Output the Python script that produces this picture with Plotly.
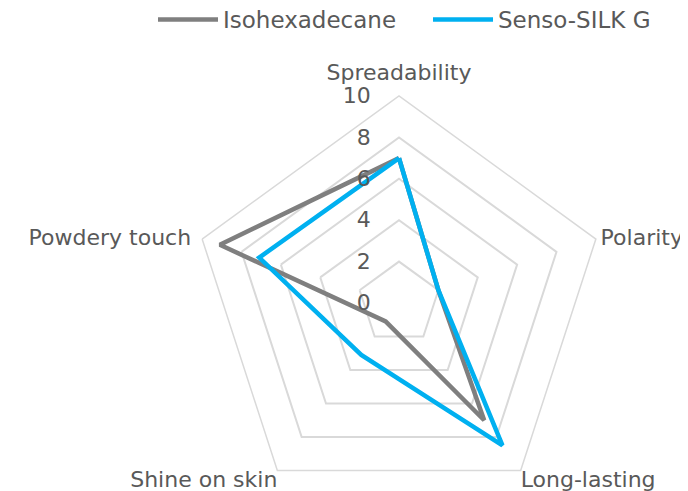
import plotly.graph_objects as go

categories = ["Spreadability", "Polarity", "Long-lasting", "Shine on skin", "Powdery touch"]
isohexadecane = [7.0, 2.0, 7.0, 1.1, 9.1]
senso_silk_g = [7.0, 2.0, 8.5, 3.1, 7.1]
tick_vals = [0, 2, 4, 6, 8, 10]
tick_labels = ["0", "2", "4", "6", "8", "10"]
axis_max = 10

GRID = "#d9d9d9"
TEXT = "#595959"
FONT = "DejaVu Sans"
FS = 22

# where each category label sits around its vertex, and how far it is pushed out
label_positions = ["top center", "middle right", "bottom right", "bottom left", "middle left"]
label_offsets = [16, 6, 0, 0, 16]

theta_closed = categories + categories[:1]

fig = go.Figure()
fig.add_trace(go.Scatterpolar(
    r=isohexadecane + isohexadecane[:1], theta=theta_closed, mode="lines",
    name="Isohexadecane", line=dict(color="#7f7f7f", width=4.5)))
fig.add_trace(go.Scatterpolar(
    r=senso_silk_g + senso_silk_g[:1], theta=theta_closed, mode="lines",
    name="Senso-SILK G", line=dict(color="#00b0f0", width=4.5)))

# category labels at the outer vertices
fig.add_trace(go.Scatterpolar(
    r=[axis_max] * len(categories), theta=categories, mode="markers+text",
    text=categories, textposition=label_positions,
    marker=dict(size=label_offsets, color="rgba(0,0,0,0)"),
    textfont=dict(family=FONT, size=FS, color=TEXT),
    cliponaxis=False, showlegend=False, hoverinfo="skip"))

W, H = 688, 510
cx, cy, R = 391, 295, 207  # pixels inside the figure, cy from top
fig.update_layout(
    width=W, height=H,
    margin=dict(l=0, r=0, t=0, b=0, autoexpand=False),
    paper_bgcolor="white", plot_bgcolor="white",
    font=dict(family=FONT, size=FS, color=TEXT),
    showlegend=True,
    legend=dict(orientation="h", x=145 / W, xanchor="left", y=1.0196, yanchor="top",
                font=dict(family=FONT, size=23, color=TEXT),
                itemwidth=60, entrywidth=200, entrywidthmode="pixels"),
    polar=dict(
        domain=dict(x=[(cx - R) / W, (cx + R) / W],
                    y=[(H - cy - R) / H, (H - cy + R) / H]),
        bgcolor="white",
        gridshape="linear",
        angularaxis=dict(
            categoryorder="array", categoryarray=categories,
            direction="clockwise", rotation=90,
            showgrid=False, showline=True, linecolor=GRID, linewidth=1.5,
            showticklabels=False, ticks=""),
        radialaxis=dict(
            range=[0, axis_max], tickvals=tick_vals, ticktext=tick_labels,
            showticklabels=True, side="counterclockwise", tickangle=90,
            tickfont=dict(family=FONT, size=FS, color=TEXT),
            showgrid=True, gridcolor=GRID, gridwidth=1.5,
            showline=False, ticks="outside", ticklen=20,
            tickcolor="rgba(0,0,0,0)", angle=90)),
)

fig.write_html("out.html")
